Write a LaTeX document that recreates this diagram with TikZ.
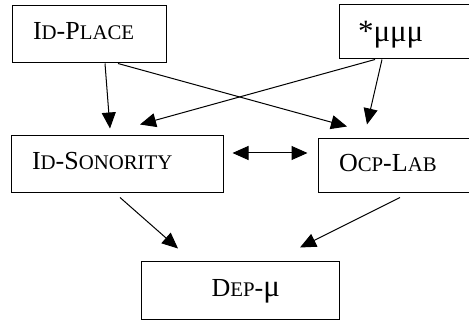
\documentclass[tikz,border=0pt]{standalone}
\usepackage{fontspec}
\setmainfont{Liberation Serif}
\usetikzlibrary{arrows.meta}
\newcommand{\smcap}[1]{{\fontsize{20.8}{24}\selectfont #1}}
\newcommand{\bigmu}{{\fontsize{31}{36}\selectfont μ}}

\begin{document}
\begin{tikzpicture}[>={Triangle[length=16pt,width=14pt]},x=1pt,y=-1pt,line width=1pt]
\clip (0,0) rectangle (469,320);
\tikzstyle{every node}=[draw,inner ysep=0pt,inner xsep=21pt,text height=16pt,
text depth=5pt,align=left,font=\fontsize{26}{30}\selectfont]
\draw (89,34.5) node[text width=112pt,minimum height=57pt] (idplace) {I\smcap{D}-P\smcap{LACE}};
\draw (409.5,32) node[text width=103pt,inner xsep=19pt,minimum height=54pt,
  text height=22pt,text depth=2pt,font=\fontsize{31}{36}\selectfont] (mu) {*μμμ};
\draw (117,164.5) node[text width=170pt,minimum height=57pt] (idson) {I\smcap{D}-S\smcap{ONORITY}};
\draw (399,166) node[text width=120pt,minimum height=54pt] (ocp) {O\smcap{CP}-L\smcap{AB}};
\draw (240,291) node[text width=80pt,inner xsep=59pt,minimum height=58pt,align=right] (dep) {D\smcap{EP}-\bigmu};

% rankings
\draw[->] ([xshift=16pt]idplace.south) -- ([xshift=-7pt,yshift=7pt]idson.north);
\draw[->] ([xshift=29pt]idplace.south) -- ([xshift=-52pt,yshift=12pt]ocp.north);
\draw[->] ([xshift=-34.5pt]mu.south) -- ([xshift=23pt,yshift=11pt]idson.north);
\draw[->] ([xshift=-27.5pt]mu.south) -- ([xshift=-32pt,yshift=14pt]ocp.north);
\draw[<->] ([xshift=9pt,yshift=11.5pt]idson.east) -- ([xshift=-10pt,yshift=13pt]ocp.west);
\draw[->] ([xshift=3pt,yshift=-4pt]idson.south) -- ([xshift=-62pt,yshift=13pt]dep.north);
\draw[->] ([xshift=1pt,yshift=-4pt]ocp.south) -- ([xshift=60pt,yshift=14pt]dep.north);

\end{tikzpicture}
\end{document}
